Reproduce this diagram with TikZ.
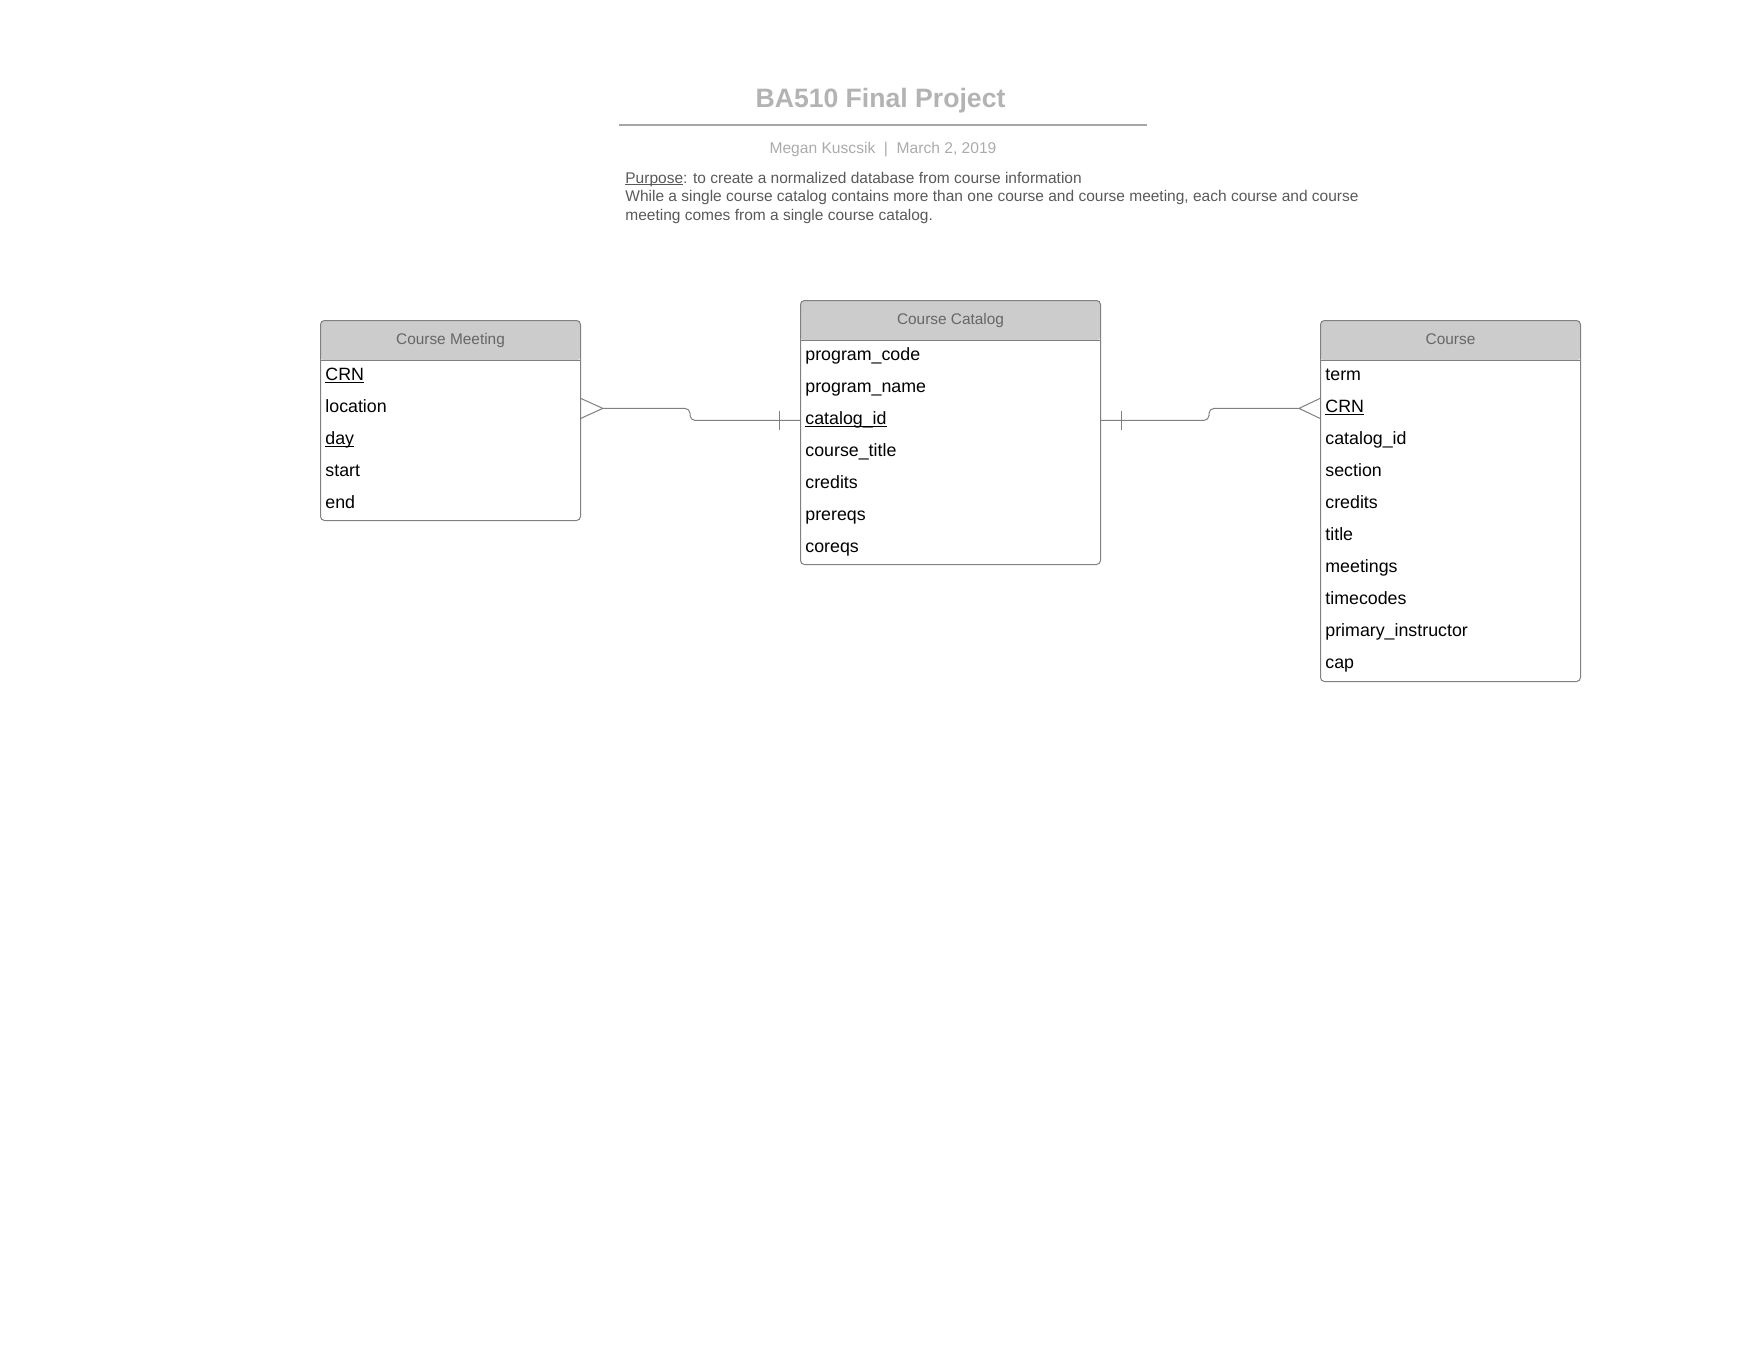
\documentclass[tikz,border=0pt]{standalone}
\usepackage{fontspec}
\setmainfont{Liberation Sans}
\usetikzlibrary{positioning}
\definecolor{headgray}{HTML}{CCCCCC}
\definecolor{framegray}{HTML}{808080}
\definecolor{titlegray}{HTML}{B3B3B3}
\definecolor{rulegray}{HTML}{A6A6A6}
\definecolor{subgray}{HTML}{ABABAB}
\definecolor{notegray}{HTML}{595959}
\definecolor{headtext}{HTML}{666666}
% underline just below the baseline
\newcommand{\keyul}[1]{\setbox0\hbox{#1}\rlap{\rule[-1.2pt]{\wd0}{0.5pt}}\box0}
\tikzset{entity/.style={draw=framegray,line width=0.5pt,rounded corners=2pt,
        anchor=north west,inner sep=0pt,
        path picture={\fill[headgray] (path picture bounding box.north west)
            rectangle ([yshift=-20pt]path picture bounding box.north east);}
    },
    headlabel/.style={inner sep=0pt,text=headtext,font=\fontsize{7.7}{9}\selectfont,
        text height=6.5pt,text depth=2.5pt},
    attr/.style={anchor=north west,minimum height=16pt,inner xsep=2.5pt,inner ysep=0pt,
        text width=#1,align=left,font=\fontsize{8.9}{10}\selectfont,
        text height=7pt,text depth=2.9pt},
    conn/.style={draw=framegray,line width=0.5pt},
    note/.style={anchor=base west,inner sep=0pt,text=notegray,font=\fontsize{7.75}{9}\selectfont}
}

\begin{document}
\begin{tikzpicture}[x=0.5pt,y=-0.5pt]
    \useasboundingbox (0,0) rectangle (1760,1360);

    % Title block
    \node[anchor=base,inner sep=0pt,text=titlegray,font=\bfseries\fontsize{13.3}{16}\selectfont]
        (title) at (880.5,107.5) {BA510 Final Project};
    \draw[rulegray,line width=0.75pt] (619,125) -- (1147,125);
    \node[anchor=base,inner sep=0pt,text=subgray,font=\fontsize{7.8}{9}\selectfont]
        (byline) at (883,153.5) {Megan Kuscsik\ \ |\ \ March 2, 2019};
    \node[note] (purpose) at (625,183) {\keyul{Purpose}: to create a normalized database from course information};
    \node[note] (reason-1) at (625,201.5) {While a single course catalog contains more than one course and course meeting, each course and course};
    \node[note] (reason-2) at (625,220) {meeting comes from a single course catalog.};

    % Course Meeting
    \node[entity,minimum width=130pt,minimum height=100pt] (meeting) at (320,320) {};
    \draw[conn] ([yshift=-20pt]meeting.north west) -- ([yshift=-20pt]meeting.north east);
    \node[headlabel] (meeting-head) at ([yshift=-10pt]meeting.north) {Course Meeting};
    \foreach \a [count=\i] in {\keyul{CRN},location,\keyul{day},start,end}
        \node[attr=125pt] (meeting-\i) at ([yshift=-4pt-16pt*\i]meeting.north west) {\a};

    % Course Catalog
    \node[entity,minimum width=150pt,minimum height=132pt] (catalog) at (800,300) {};
    \draw[conn] ([yshift=-20pt]catalog.north west) -- ([yshift=-20pt]catalog.north east);
    \node[headlabel] (catalog-head) at ([yshift=-10pt]catalog.north) {Course Catalog};
    \foreach \a [count=\i] in {program\_code,program\_name,\keyul{catalog\_id},course\_title,credits,prereqs,coreqs}
        \node[attr=145pt] (catalog-\i) at ([yshift=-4pt-16pt*\i]catalog.north west) {\a};

    % Course
    \node[entity,minimum width=130pt,minimum height=180.5pt] (course) at (1320,320) {};
    \draw[conn] ([yshift=-20pt]course.north west) -- ([yshift=-20pt]course.north east);
    \node[headlabel] (course-head) at ([yshift=-10pt]course.north) {Course};
    \foreach \a [count=\i] in {term,\keyul{CRN},catalog\_id,section,credits,title,meetings,timecodes,primary\_instructor,cap}
        \node[attr=125pt] (course-\i) at ([yshift=-4pt-16pt*\i]course.north west) {\a};

    % Catalog (one) to Course Meeting (many)
    \coordinate (meeting-jog) at ([xshift=-55pt]catalog-3.west);
    \draw[conn] (meeting-2.east) ++(0,-10) -- ++(22,10) -- ++(-22,10);
    \draw[conn,rounded corners=2.5pt] (meeting-2.east) ++(22,0) -| (meeting-jog) -- (catalog-3.west);
    \draw[conn] (catalog-3.west) ++(-21,-9.5) -- ++(0,19);

    % Catalog (one) to Course (many)
    \coordinate (course-jog) at ([xshift=-55.5pt]course-2.west);
    \draw[conn,rounded corners=2.5pt] (catalog-3.east) -| (course-jog) -- ([xshift=-10.5pt]course-2.west);
    \draw[conn] (catalog-3.east) ++(21,-9.5) -- ++(0,19);
    \draw[conn] (course-2.west) ++(0,-10) -- ++(-21,10) -- ++(21,10);
\end{tikzpicture}
\end{document}
